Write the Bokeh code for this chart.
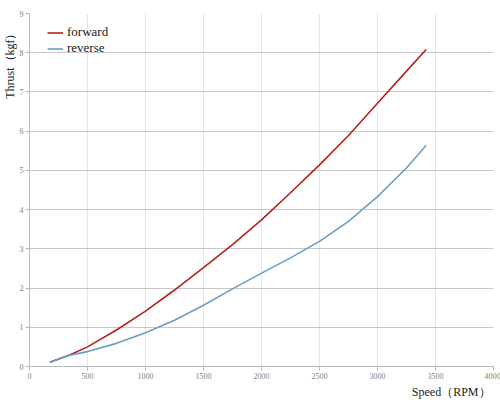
from bokeh.plotting import figure
from bokeh.models import Range1d, FixedTicker, Legend, LegendItem, Title
from bokeh.embed import file_html
from bokeh.resources import INLINE

# speed (RPM) and thrust (kgf)
speed = [175, 350, 500, 750, 1000, 1250, 1500, 1750, 2000, 2250, 2500, 2750, 3000, 3250, 3420]
forward = [0.11, 0.30, 0.50, 0.93, 1.41, 1.95, 2.52, 3.11, 3.74, 4.43, 5.14, 5.89, 6.71, 7.53, 8.08]
reverse = [0.11, 0.29, 0.38, 0.59, 0.86, 1.18, 1.56, 1.98, 2.38, 2.77, 3.19, 3.70, 4.33, 5.06, 5.64]

x_ticks = [0, 500, 1000, 1500, 2000, 2500, 3000, 3500, 4000]
y_ticks = [0, 1, 2, 3, 4, 5, 6, 7, 8, 9]

SERIF = "Liberation Serif"

p = figure(
    width=500,
    height=405,
    x_range=Range1d(0, 4000),
    y_range=Range1d(0, 9),
    output_backend="svg",
    toolbar_location=None,
    min_border_left=29,
    min_border_right=7,
    min_border_top=13,
    min_border_bottom=39,
)
p.outline_line_color = None
p.background_fill_color = "white"

fwd = p.line(speed, forward, line_color="#b3231c", line_width=1.6)
rev = p.line(speed, reverse, line_color="#6a9fc2", line_width=1.6)

legend = Legend(
    items=[LegendItem(label="forward", renderers=[fwd]),
           LegendItem(label="reverse", renderers=[rev])],
    location=(18, 310),
    border_line_color=None,
    background_fill_alpha=0,
    label_text_font=SERIF,
    label_text_font_size="13px",
    label_text_color="#222222",
    glyph_width=16,
    label_standoff=4,
    label_height=15,
    glyph_height=15,
    spacing=0,
    padding=5,
    margin=0,
)
p.add_layout(legend)

# grid
p.xgrid.ticker = FixedTicker(ticks=x_ticks)
p.ygrid.ticker = FixedTicker(ticks=y_ticks)
p.xgrid.grid_line_color = "#e6e6e6"
p.ygrid.grid_line_color = "#c8c8c8"

# axes
for ax in (p.xaxis, p.yaxis):
    ax.axis_line_color = "#b8b8b8"
    ax.major_tick_line_color = "#b8b8b8"
    ax.minor_tick_line_color = None
    ax.major_tick_in = 0
    ax.major_tick_out = 4
    ax.major_label_text_font = SERIF
    ax.major_label_text_font_size = "8px"
    ax.major_label_text_color = "#808080"
    ax.major_label_standoff = 2
p.xaxis.ticker = FixedTicker(ticks=x_ticks)
p.yaxis.ticker = FixedTicker(ticks=y_ticks)

# axis titles, pushed to the top / right ends like the reference
p.add_layout(Title(text="Thrust（kgf）", align="right", offset=14, standoff=0,
                   text_font=SERIF, text_font_size="12px",
                   text_font_style="normal", text_color="#222222"), "left")
p.add_layout(Title(text="Speed（RPM）", align="right", offset=3, standoff=3,
                   text_font=SERIF, text_font_size="12px",
                   text_font_style="normal", text_color="#222222"), "below")

open("out.html", "w").write(file_html(p, INLINE))
